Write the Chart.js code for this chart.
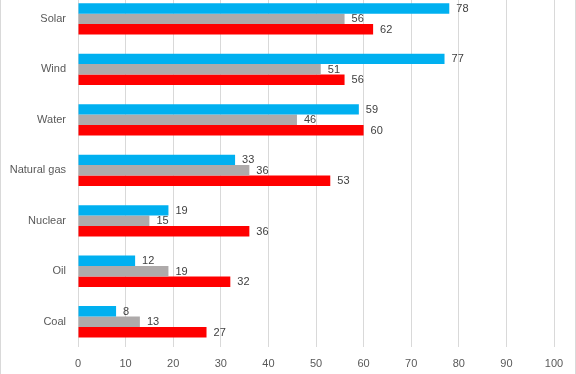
<!DOCTYPE html>
<html>
<head>
<meta charset="utf-8">
<script src="https://cdn.jsdelivr.net/npm/chart.js@4/dist/chart.umd.min.js"></script>
<style>
  html, body { margin: 0; padding: 0; background: #fff; overflow: hidden; }
  #frame { position: absolute; left: 0; top: 0; width: 576px; height: 374px; box-sizing: border-box;
           border-left: 1px solid #d9d9d9; border-right: 1px solid #d9d9d9; overflow: hidden; }
  #wrap { position: absolute; left: 0; top: -25px; width: 576px; height: 407px; }
</style>
</head>
<body>
<div id="frame"><div id="wrap"><canvas id="c"></canvas></div></div>
<script>
const categories = ["Solar", "Wind", "Water", "Natural gas", "Nuclear", "Oil", "Coal"];
const seriesBlue = [78, 77, 59, 33, 19, 12, 8];
const seriesGray = [56, 51, 46, 36, 15, 19, 13];
const seriesRed  = [62, 56, 60, 53, 36, 32, 27];
const xTicks = [0, 10, 20, 30, 40, 50, 60, 70, 80, 90, 100];

const FONT = "'Liberation Sans', Arial, sans-serif";

const valueLabels = {
  id: 'valueLabels',
  afterDatasetsDraw(chart) {
    const ctx = chart.ctx;
    ctx.save();
    ctx.font = "11px " + FONT;
    ctx.fillStyle = '#404040';
    ctx.textAlign = 'left';
    ctx.textBaseline = 'middle';
    chart.data.datasets.forEach((ds, di) => {
      const meta = chart.getDatasetMeta(di);
      meta.data.forEach((bar, i) => {
        ctx.fillText(String(ds.data[i]), bar.x + 7, bar.y + 0.5);
      });
    });
    ctx.restore();
  }
};

new Chart(document.getElementById('c'), {
  type: 'bar',
  data: {
    labels: categories,
    datasets: [
      { data: seriesBlue, backgroundColor: '#00B0F0' },
      { data: seriesGray, backgroundColor: '#AEAAAA' },
      { data: seriesRed,  backgroundColor: '#FF0000' }
    ]
  },
  options: {
    indexAxis: 'y',
    responsive: true,
    maintainAspectRatio: false,
    animation: false,
    devicePixelRatio: 1,
    datasets: { bar: { categoryPercentage: 0.62, barPercentage: 1.0 } },
    layout: { padding: { left: 0, right: 23, top: 0, bottom: 0 } },
    plugins: { legend: { display: false }, tooltip: { enabled: false } },
    scales: {
      x: {
        min: 0, max: 100,
        afterBuildTicks(scale) { scale.ticks = xTicks.map(v => ({ value: v })); },
        afterFit(scale) { scale.height = 35; },
        grid: { color: '#d9d9d9', lineWidth: 1, drawTicks: false },
        border: { display: false },
        ticks: { color: '#595959', font: { family: FONT, size: 11 }, padding: 10 }
      },
      y: {
        afterFit(scale) { scale.width = 77; },
        grid: { display: false, drawTicks: false },
        border: { display: false },
        ticks: { color: '#595959', font: { family: FONT, size: 11 }, padding: 12 }
      }
    }
  },
  plugins: [valueLabels]
});
</script>
</body>
</html>
